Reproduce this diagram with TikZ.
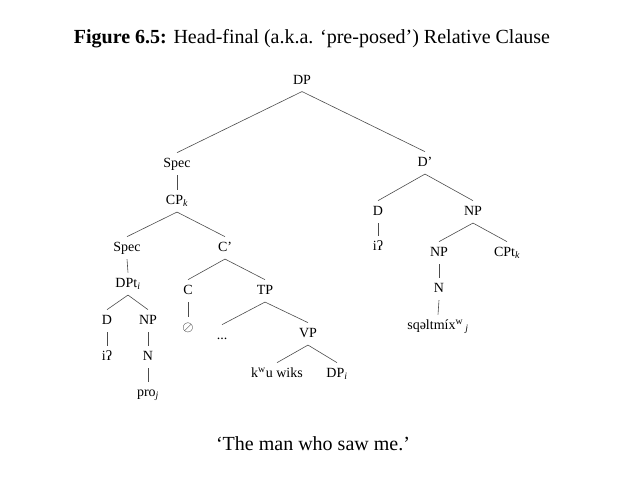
\documentclass[tikz,border=0pt]{standalone}
\usepackage{fontspec}
\setmainfont{Liberation Serif}
\begin{document}
\begin{tikzpicture}[x=1pt,y=-1pt,
  lab/.style={anchor=base,inner xsep=1pt,inner ysep=5.35pt,text height=9.3pt,text depth=2pt,font=\fontsize{14}{16}\selectfont},
  edge/.style={draw=black!70,line width=0.6pt},
  big/.style={anchor=base,inner sep=0pt,font=\fontsize{20}{24}\selectfont}]
\useasboundingbox (0,0) rectangle (632,483);
\node[big] (title) at (312,43) {\textbf{Figure 6.5:} Head-final (a.k.a. ‘pre-posed’) Relative Clause};
\node[big] (cap) at (313,450) {‘The man who saw me.’};

\node[lab] (DP) at (302,84) {DP};
\node[lab] (spec1) at (177,167.5) {Spec};
\node[lab] (CPk) at (177,204.5) {CP\textsubscript{\textit{k}}};
\node[lab] (Dbar) at (425,166.5) {D’};
\node[lab] (Dr) at (378,215.5) {D};
\node[lab] (ir) at (378,250.5) {iʔ};
\node[lab] (NPr) at (473,215.5) {NP};
\node[lab] (NPin) at (439,256.5) {NP};
\node[lab] (CPt) at (507,256.5) {CPt\textsubscript{\textit{k}}};
\node[lab] (Nr) at (439,292.5) {N};
\node[lab] (sq) at (438,329.5) {sqəltmíx\textsuperscript{w}\,\textsubscript{\textit{j}}};
\node[lab] (spec2) at (127,251.5) {Spec};
\node[lab] (Cbar) at (225,251.5) {C’};
\node[lab] (DPt) at (128,287.5) {DPt\textsubscript{\textit{i}}};
\node[lab] (C) at (188,294.5) {C};
\node[lab] (TP) at (265,294.5) {TP};
\node[lab] (null) at (188,331.5) {$\oslash$};
\node[lab] (dots) at (222,339.5) {...};
\node[lab] (VP) at (308,337.5) {VP};
\node[lab] (Dl) at (107,324.5) {D};
\node[lab] (NPl) at (148,324.5) {NP};
\node[lab] (il) at (107,360.5) {iʔ};
\node[lab] (Nl) at (148,360.5) {N};
\node[lab] (pro) at (148,396.5) {pro\textsubscript{\textit{j}}};
\node[lab] (kwu) at (277,377.5) {k\textsuperscript{w}u wiks};
\node[lab] (DPi) at (337,377.5) {DP\textsubscript{\textit{i}}};

\foreach \a/\b in {DP/spec1,DP/Dbar,spec1/CPk,CPk/spec2,CPk/Cbar,spec2/DPt,
  DPt/Dl,DPt/NPl,Dl/il,NPl/Nl,Nl/pro,Cbar/C,Cbar/TP,C/null,TP/dots,TP/VP,
  VP/kwu,VP/DPi,Dbar/Dr,Dbar/NPr,Dr/ir,NPr/NPin,NPr/CPt,NPin/Nr,Nr/sq}
  \draw[edge] (\a.south) -- (\b.north);
\end{tikzpicture}
\end{document}
